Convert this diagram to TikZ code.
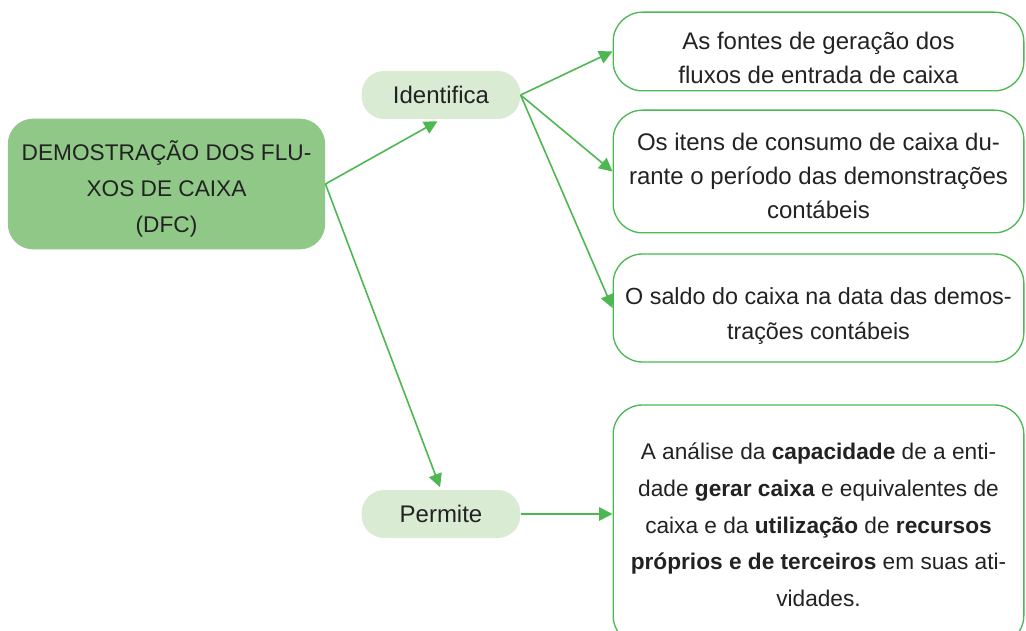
\documentclass[tikz,border=0pt]{standalone}
\usepackage{fontspec}
\setmainfont{Liberation Sans}
\usepackage{xcolor}
\usetikzlibrary{arrows.meta}

\definecolor{dfcgreen}{HTML}{90C987}
\definecolor{palegreen}{HTML}{D9EBD3}
\definecolor{linegreen}{HTML}{4DB852}
\definecolor{inkgray}{HTML}{222222}

% invisible strut that lowers the text block a little
\newcommand{\topgap}[1]{\rule{0pt}{#1}}

\begin{document}
\begin{tikzpicture}[x=0.75pt, y=-0.75pt, >={Triangle[length=10pt, width=10pt]},
        font=\fontsize{18}{25.5}\selectfont, text=inkgray,
        main/.style={rectangle, rounded corners=19pt, fill=dfcgreen, minimum width=238pt, minimum height=98pt, align=center, inner sep=0pt},
        verb/.style={rectangle, rounded corners=17pt, fill=palegreen, minimum width=119pt, minimum height=36pt, inner sep=0pt},
        item/.style={rectangle, rounded corners=22pt, draw=linegreen, line width=1pt, minimum width=308pt, align=center, inner sep=0pt},
        every edge/.append style={draw=linegreen, line width=1.2pt}]
        \clip (0,0) rectangle (1026,631);

        \node[main, font=\fontsize{17}{27}\selectfont] (dfc) at (166.5,184) {\topgap{23pt}DEMOSTRAÇÃO DOS FLU-\\XOS DE CAIXA\\(DFC)};
        \node[verb] (ident) at (441,95)    {Identifica};
        \node[verb] (perm)  at (441,514)   {Permite};

        \node[item, minimum height=59pt] (f_1) at (818.5,51.5) {\topgap{22pt}As fontes de geração dos\\fluxos de entrada de caixa};
        \node[item, minimum height=92pt] (f_2) at (818.5,171.5) {\topgap{20pt}Os itens de consumo de caixa du-\\rante o período das demonstrações\\contábeis};
        \node[item, minimum height=81pt, font=\fontsize{17.5}{26}\selectfont] (f_3) at (818.5,308) {\topgap{25pt}O saldo do caixa na data das demos-\\trações contábeis};
        \node[item, minimum height=180pt, font=\fontsize{17}{27.5}\selectfont] (f_4) at (818.5,525)
            {A análise da \textbf{capacidade} de a enti-\\dade \textbf{gerar caixa} e equivalentes de\\caixa e da \textbf{utilização} de \textbf{recursos}\\\textbf{próprios e de terceiros} em suas ati-\\vidades.};

        \path[->]
        (dfc.east) edge [shorten >=3pt] (ident.south)
        (dfc.east) edge [shorten >=2pt] (perm.north)
        (ident.east) edge (f_1.west)
        (ident.east) edge (f_2.west)
        (ident.east) edge (f_3.west)
        (perm.east) edge (perm.east -| f_4.west)
        ;
    \end{tikzpicture}
\end{document}
